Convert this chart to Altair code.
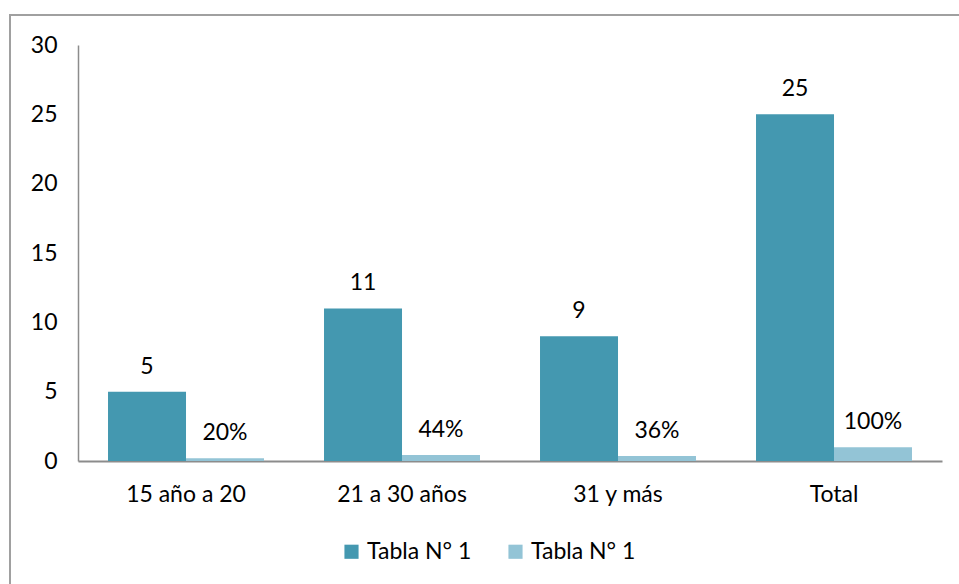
import altair as alt
import pandas as pd

# Age groups and the two series shown for each
categories = ["15 año a 20", "21 a 30 años", "31 y más", "Total"]
counts = [5, 11, 9, 25]
shares = [0.20, 0.44, 0.36, 1.00]
series_names = ["Tabla N° 1", "Tabla N° 1"]

rows = []
for cat, c, s in zip(categories, counts, shares):
    rows.append({"cat": cat, "serie": "a", "valor": c, "etiqueta": f"{c}"})
    rows.append({"cat": cat, "serie": "b", "valor": s, "etiqueta": f"{round(s * 100)}%"})
df = pd.DataFrame(rows)

FONT = "Lato"
FS = 23
DARK = "#4498B0"
LIGHT = "#93C4D6"

x_enc = alt.X(
    "cat:N",
    sort=categories,
    title=None,
    scale=alt.Scale(paddingInner=0.278, paddingOuter=0.139),
    axis=alt.Axis(
        labelAngle=0,
        labelFontSize=FS,
        labelFont=FONT,
        labelColor="#000000",
        labelPadding=22,
        ticks=False,
        domainColor="#8c8c8c",
        domainWidth=2,
    ),
)
y_enc = alt.Y(
    "valor:Q",
    title=None,
    scale=alt.Scale(domain=[0, 30], nice=False),
    axis=alt.Axis(
        values=[0, 5, 10, 15, 20, 25, 30],
        grid=False,
        ticks=False,
        labelFontSize=FS,
        labelFont=FONT,
        labelColor="#000000",
        labelPadding=21,
        domainColor="#8c8c8c",
        domainWidth=1.5,
    ),
)

bars = alt.Chart(df).mark_bar(size=78).encode(
    x=x_enc,
    xOffset=alt.XOffset("serie:N", sort=["a", "b"]),
    y=y_enc,
    color=alt.Color(
        "serie:N",
        sort=["a", "b"],
        scale=alt.Scale(domain=["a", "b"], range=[DARK, LIGHT]),
        legend=alt.Legend(
            title=None,
            orient="none",
            legendX=262,
            legendY=495,
            direction="horizontal",
            symbolType="square",
            symbolSize=200,
            symbolStrokeWidth=0,
            labelFontSize=FS,
            labelFont=FONT,
            labelColor="#000000",
            labelExpr=f"datum.value == 'a' ? '{series_names[0]}' : '{series_names[1]}'",
            columnPadding=32,
            labelOffset=4,
        ),
    ),
)

labels = alt.Chart(df).mark_text(
    dy=-25, baseline="middle", fontSize=FS, font=FONT, color="#000000"
).encode(
    x=alt.X("cat:N", sort=categories),
    xOffset=alt.XOffset("serie:N", sort=["a", "b"]),
    y="valor:Q",
    text="etiqueta:N",
)

# Outer frame around the whole chart
frame = alt.Chart(pd.DataFrame({"k": [0]})).mark_rect(
    fill=None, stroke="#a0a0a0", strokeWidth=2
).encode(
    x=alt.value(-68), x2=alt.value(900), y=alt.value(-30), y2=alt.value(560)
)

chart = (
    alt.layer(bars, labels, frame)
    .properties(
        width=864,
        height=416,
        padding={"left": 78, "top": 45, "right": 17, "bottom": 123},
        autosize=alt.AutoSizeParams(type="none"),
        background="white",
    )
    .configure_view(stroke=None)
)

chart.save("out.html", embed_options={"renderer": "svg", "actions": False})
